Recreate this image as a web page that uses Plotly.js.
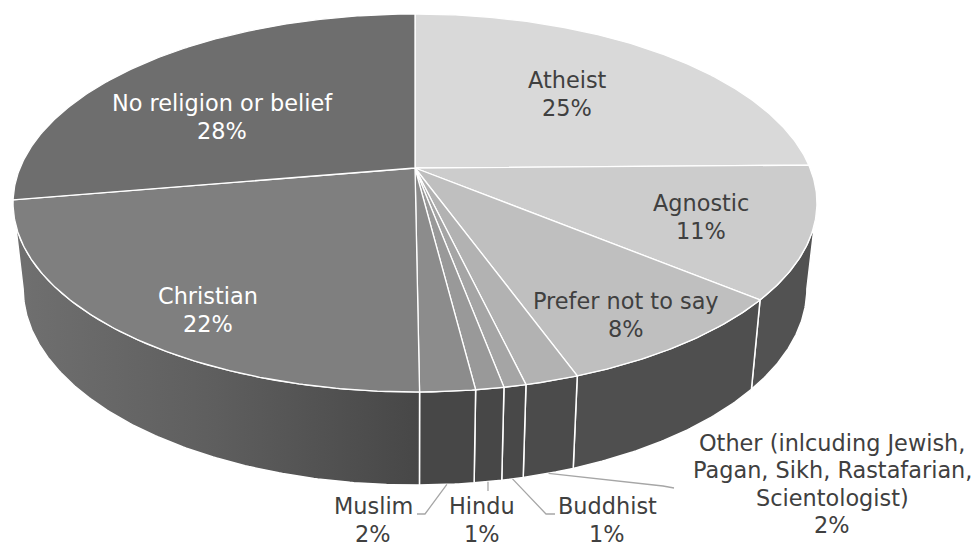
<!DOCTYPE html>
<html>
<head>
<meta charset="utf-8">
<script src="https://cdn.plot.ly/plotly-3.0.1.min.js"></script>
<style>html,body{margin:0;padding:0;background:#fff}</style>
</head>
<body>
<div id="chart" style="width:976px;height:543px"></div>
<script>
// ---- data (clockwise from 12 o'clock) ----
const categories = ["Atheist","Agnostic","Prefer not to say","Other (inlcuding Jewish,|Pagan, Sikh, Rastafarian,|Scientologist)","Buddhist","Hindu","Muslim","Christian","No religion or belief"];
const shares = [24.75,11.25,8.49,1.81,0.75,0.95,1.85,22.45,27.7];

// ---- styles ----
const topColors = ["#d9d9d9","#cccccc","#bfbfbf","#b2b2b2","#a5a5a5","#999999","#8c8c8c","#7f7f7f","#6e6e6e"];
const sideColors = ["#555555","#525252","#4f4f4f","#4b4b4b","#484848","#474747","#474747","#474747","#6e6e6e"];
const labelColors = ["#404040","#404040","#404040","#404040","#404040","#404040","#404040","#ffffff","#ffffff"];
const labelX = [567,701,626,832,607,482,373,208,222];
const labelY = [94,217,315,484,520,520,520,310,117];
const LINE_GAP = 27.4, FONT_SIZE = 22.4;
// leader elbows, only for the outside labels: index -> polyline tail
const leaderTails = {3:[[663,486],[674,488]],4:[[546,514],[555,514]],5:[[488,491]],6:[[425,514],[417,514]]};

// ---- projection of the disc on to the page ----
const CX=415, CY=168, K=0.185, A=395, B=182.5;
function topPt(deg){
  const t=deg*Math.PI/180, u=Math.sin(t), v=Math.cos(t), d=1+K*v;
  return [CX+A*u/d, CY-B*v/d];
}
function botPt(deg){
  const p=topPt(deg);
  return [CX+0.975*(p[0]-CX), 1.04*p[1]+77.5];
}
const VIS_A=100.7, VIS_B=259.3;
function arc(a,b,fn){
  const n=Math.max(2,Math.ceil(Math.abs(b-a)/0.5)), out=[];
  for(let i=0;i<=n;i++) out.push(fn(a+(b-a)*i/n));
  return out;
}

const total=shares.reduce((s,v)=>s+v,0);
const traces=[], topTraces=[], annotations=[];
let cum=0;
shares.forEach((val,i)=>{
  const a=cum/total*360, b=(cum+val)/total*360, mid=(a+b)/2;
  cum+=val;
  // side wall
  const sa=Math.max(a,VIS_A), sb=Math.min(b,VIS_B);
  if(sb>sa){
    const pts=arc(sa,sb,topPt).concat(arc(sb,sa,botPt));
    pts.push(pts[0]);
    const tr={type:"scatter",mode:"lines",x:pts.map(p=>p[0]),y:pts.map(p=>p[1]),fill:"toself",
      fillcolor:sideColors[i],line:{color:"#ffffff",width:1.5},hoverinfo:"skip",showlegend:false};
    if(i===7){
      tr.fillgradient={type:"horizontal",colorscale:[[0,"#707070"],[0.5,"#5e5e5e"],[1,"#474747"]]};
    }
    traces.push(tr);
  }
  // top face
  const pts=[[CX,CY]].concat(arc(a,b,topPt)); pts.push([CX,CY]);
  topTraces.push({type:"scatter",mode:"lines",x:pts.map(p=>p[0]),y:pts.map(p=>p[1]),fill:"toself",
    fillcolor:topColors[i],line:{color:"#ffffff",width:1.3},hoverinfo:"skip",showlegend:false});
  // leader
  if(leaderTails[i]){
    const s=botPt(mid), line=[s].concat(leaderTails[i]);
    traces.push({type:"scatter",mode:"lines",x:line.map(p=>p[0]),y:line.map(p=>p[1]),
      line:{color:"#a6a6a6",width:1.3},hoverinfo:"skip",showlegend:false});
  }
  // label, one annotation per line
  const lines=categories[i].split("|").concat([Math.round(val/total*100)+"%"]);
  lines.forEach((txt,j)=>{
    annotations.push({x:labelX[i],y:labelY[i]+(j-(lines.length-1)/2)*LINE_GAP,xref:"x",yref:"y",showarrow:false,
      xanchor:"center",yanchor:"middle",align:"center",text:txt,
      font:{family:"DejaVu Sans",size:FONT_SIZE,color:labelColors[i]}});
  });
});

Plotly.newPlot("chart",traces.concat(topTraces),{
  width:976,height:543,autosize:false,
  margin:{l:0,r:0,t:0,b:0,pad:0},
  paper_bgcolor:"#ffffff",plot_bgcolor:"#ffffff",showlegend:false,
  xaxis:{range:[0,976],visible:false,fixedrange:true},
  yaxis:{range:[543,0],visible:false,fixedrange:true},
  annotations:annotations
},{displayModeBar:false,staticPlot:true});
</script>
</body>
</html>
